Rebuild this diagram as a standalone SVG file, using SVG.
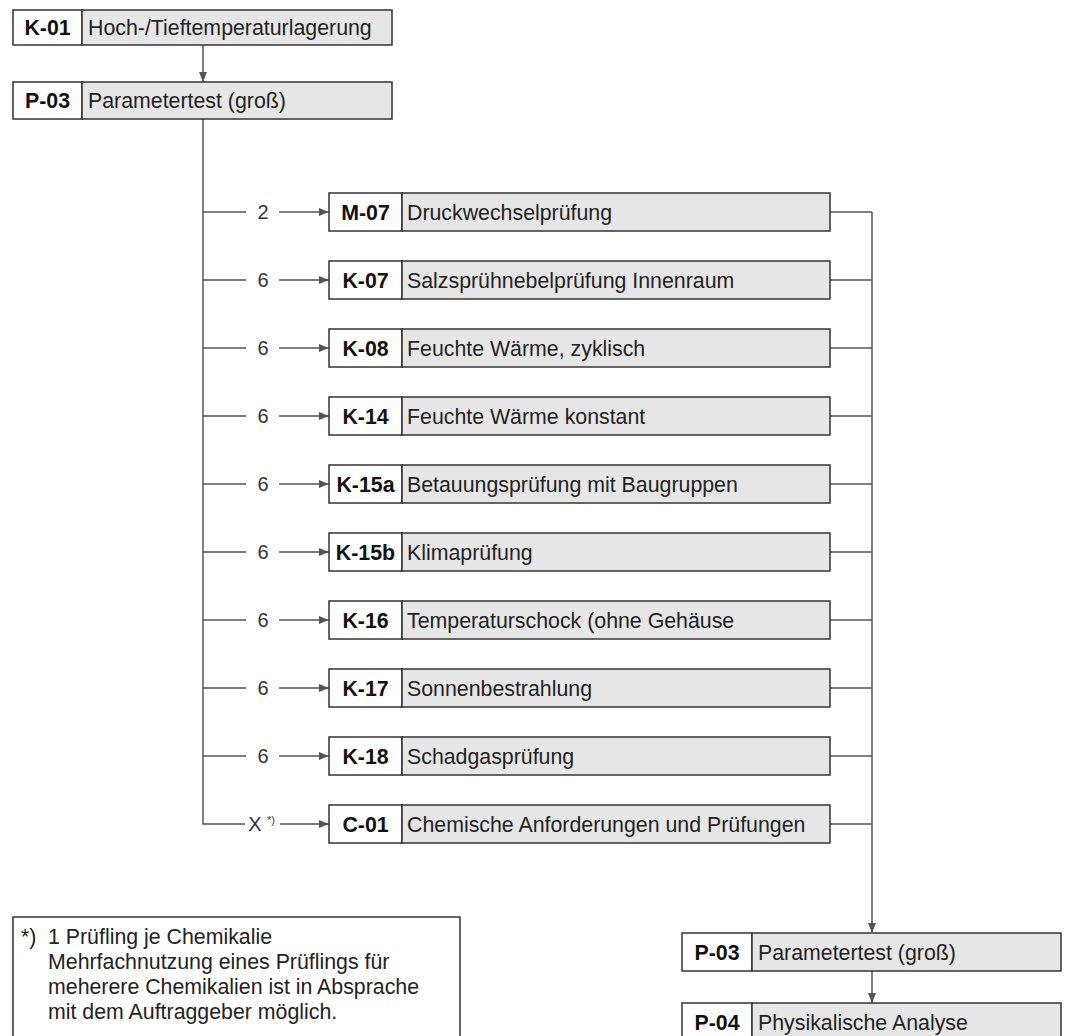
<svg xmlns="http://www.w3.org/2000/svg" width="1066" height="1036" viewBox="0 0 1066 1036">
<style>
.code{fill:#fff;stroke:#333;stroke-width:1.5}
.name{fill:#e6e6e6;stroke:#333;stroke-width:1.5}
.ct{font-family:"Liberation Sans",Arial,sans-serif;font-size:21.33px;font-weight:bold;fill:#111;text-anchor:middle}
.nt{font-family:"Liberation Sans",Arial,sans-serif;font-size:21.33px;fill:#222}
.lbl{font-family:"Liberation Sans",Arial,sans-serif;font-size:20px;fill:#333;text-anchor:middle}
.ln{stroke:#555;stroke-width:1.5;fill:none}
.fn{font-family:"Liberation Sans",Arial,sans-serif;font-size:21.33px;fill:#222}
</style>
<defs>
<marker id="ah" markerWidth="10" markerHeight="8" refX="10" refY="4" orient="auto" markerUnits="userSpaceOnUse">
<path d="M0,0 L10,4 L0,8 Z" fill="#4d5562"/>
</marker>
</defs>
<g id="connectors">
<line class="ln" x1="203" y1="45" x2="203" y2="82" marker-end="url(#ah)"/>
<polyline class="ln" points="203,119 203,824 245,824"/>
<line class="ln" x1="203" y1="212" x2="246" y2="212"/><line class="ln" x1="279" y1="212" x2="329" y2="212" marker-end="url(#ah)"/>
<line class="ln" x1="203" y1="280" x2="246" y2="280"/><line class="ln" x1="279" y1="280" x2="329" y2="280" marker-end="url(#ah)"/>
<line class="ln" x1="203" y1="348" x2="246" y2="348"/><line class="ln" x1="279" y1="348" x2="329" y2="348" marker-end="url(#ah)"/>
<line class="ln" x1="203" y1="416" x2="246" y2="416"/><line class="ln" x1="279" y1="416" x2="329" y2="416" marker-end="url(#ah)"/>
<line class="ln" x1="203" y1="484" x2="246" y2="484"/><line class="ln" x1="279" y1="484" x2="329" y2="484" marker-end="url(#ah)"/>
<line class="ln" x1="203" y1="552" x2="246" y2="552"/><line class="ln" x1="279" y1="552" x2="329" y2="552" marker-end="url(#ah)"/>
<line class="ln" x1="203" y1="620" x2="246" y2="620"/><line class="ln" x1="279" y1="620" x2="329" y2="620" marker-end="url(#ah)"/>
<line class="ln" x1="203" y1="688" x2="246" y2="688"/><line class="ln" x1="279" y1="688" x2="329" y2="688" marker-end="url(#ah)"/>
<line class="ln" x1="203" y1="756" x2="246" y2="756"/><line class="ln" x1="279" y1="756" x2="329" y2="756" marker-end="url(#ah)"/>
<line class="ln" x1="280" y1="824" x2="329" y2="824" marker-end="url(#ah)"/>
<line class="ln" x1="830" y1="212" x2="872" y2="212"/>
<line class="ln" x1="830" y1="280" x2="872" y2="280"/>
<line class="ln" x1="830" y1="348" x2="872" y2="348"/>
<line class="ln" x1="830" y1="416" x2="872" y2="416"/>
<line class="ln" x1="830" y1="484" x2="872" y2="484"/>
<line class="ln" x1="830" y1="552" x2="872" y2="552"/>
<line class="ln" x1="830" y1="620" x2="872" y2="620"/>
<line class="ln" x1="830" y1="688" x2="872" y2="688"/>
<line class="ln" x1="830" y1="756" x2="872" y2="756"/>
<line class="ln" x1="830" y1="824" x2="872" y2="824"/>
<line class="ln" x1="872" y1="212" x2="872" y2="933" marker-end="url(#ah)"/>
<line class="ln" x1="872" y1="971" x2="872" y2="1003" marker-end="url(#ah)"/>
<text class="lbl" x="263" y="219">2</text>
<text class="lbl" x="263" y="287">6</text>
<text class="lbl" x="263" y="355">6</text>
<text class="lbl" x="263" y="423">6</text>
<text class="lbl" x="263" y="491">6</text>
<text class="lbl" x="263" y="559">6</text>
<text class="lbl" x="263" y="627">6</text>
<text class="lbl" x="263" y="695">6</text>
<text class="lbl" x="263" y="763">6</text>
<text class="lbl" x="255" y="831">X</text>
<text class="lbl" x="271" y="824" style="font-size:11px">*)</text>
</g>
<g id="K-01-top"><rect class="code" x="13" y="10" width="69" height="35"/><rect class="name" x="82" y="10" width="310" height="35"/><text class="ct" x="47.5" y="35">K-01</text><text class="nt" x="88" y="35">Hoch-/Tieftemperaturlagerung</text></g>
<g id="P-03-top"><rect class="code" x="13" y="82" width="69" height="37"/><rect class="name" x="82" y="82" width="310" height="37"/><text class="ct" x="47.5" y="108">P-03</text><text class="nt" x="88" y="108">Parametertest (groß)</text></g>
<g id="M-07"><rect class="code" x="329" y="193" width="73" height="38"/><rect class="name" x="402" y="193" width="428" height="38"/><text class="ct" x="365.5" y="219.5">M-07</text><text class="nt" x="407" y="219.5">Druckwechselprüfung</text></g>
<g id="K-07"><rect class="code" x="329" y="261" width="73" height="38"/><rect class="name" x="402" y="261" width="428" height="38"/><text class="ct" x="365.5" y="287.5">K-07</text><text class="nt" x="407" y="287.5">Salzsprühnebelprüfung Innenraum</text></g>
<g id="K-08"><rect class="code" x="329" y="329" width="73" height="38"/><rect class="name" x="402" y="329" width="428" height="38"/><text class="ct" x="365.5" y="355.5">K-08</text><text class="nt" x="407" y="355.5">Feuchte Wärme, zyklisch</text></g>
<g id="K-14"><rect class="code" x="329" y="397" width="73" height="38"/><rect class="name" x="402" y="397" width="428" height="38"/><text class="ct" x="365.5" y="423.5">K-14</text><text class="nt" x="407" y="423.5">Feuchte Wärme konstant</text></g>
<g id="K-15a"><rect class="code" x="329" y="465" width="73" height="38"/><rect class="name" x="402" y="465" width="428" height="38"/><text class="ct" x="365.5" y="491.5">K-15a</text><text class="nt" x="407" y="491.5">Betauungsprüfung mit Baugruppen</text></g>
<g id="K-15b"><rect class="code" x="329" y="533" width="73" height="38"/><rect class="name" x="402" y="533" width="428" height="38"/><text class="ct" x="365.5" y="559.5">K-15b</text><text class="nt" x="407" y="559.5">Klimaprüfung</text></g>
<g id="K-16"><rect class="code" x="329" y="601" width="73" height="38"/><rect class="name" x="402" y="601" width="428" height="38"/><text class="ct" x="365.5" y="627.5">K-16</text><text class="nt" x="407" y="627.5">Temperaturschock (ohne Gehäuse</text></g>
<g id="K-17"><rect class="code" x="329" y="669" width="73" height="38"/><rect class="name" x="402" y="669" width="428" height="38"/><text class="ct" x="365.5" y="695.5">K-17</text><text class="nt" x="407" y="695.5">Sonnenbestrahlung</text></g>
<g id="K-18"><rect class="code" x="329" y="737" width="73" height="38"/><rect class="name" x="402" y="737" width="428" height="38"/><text class="ct" x="365.5" y="763.5">K-18</text><text class="nt" x="407" y="763.5">Schadgasprüfung</text></g>
<g id="C-01"><rect class="code" x="329" y="805" width="73" height="38"/><rect class="name" x="402" y="805" width="428" height="38"/><text class="ct" x="365.5" y="831.5">C-01</text><text class="nt" x="407" y="831.5">Chemische Anforderungen und Prüfungen</text></g>
<g id="P-03-bottom"><rect class="code" x="682" y="933" width="70" height="38"/><rect class="name" x="752" y="933" width="309" height="38"/><text class="ct" x="717" y="959.5">P-03</text><text class="nt" x="758" y="959.5">Parametertest (groß)</text></g>
<g id="P-04"><rect class="code" x="682" y="1003" width="70" height="40"/><rect class="name" x="752" y="1003" width="309" height="40"/><text class="ct" x="717" y="1029.5">P-04</text><text class="nt" x="758" y="1029.5">Physikalische Analyse</text></g>
<g id="footnote"><rect x="13" y="917" width="447" height="130" fill="#fff" stroke="#333" stroke-width="1.5"/>
<text class="fn" x="21" y="944">*)</text>
<text class="fn" x="48" y="944">1 Prüfling je Chemikalie</text>
<text class="fn" x="48" y="969">Mehrfachnutzung eines Prüflings für</text>
<text class="fn" x="48" y="994">meherere Chemikalien ist in Absprache</text>
<text class="fn" x="48" y="1019">mit dem Auftraggeber möglich.</text>
</g>
</svg>
